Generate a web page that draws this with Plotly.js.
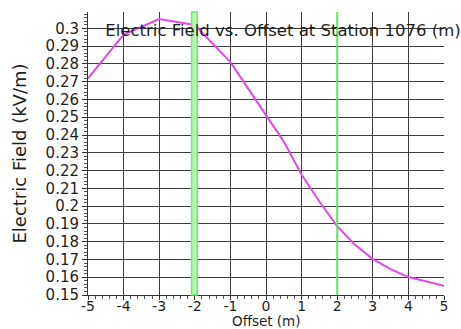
<!DOCTYPE html>
<html>
<head>
<meta charset="utf-8">
<script src="https://cdn.plot.ly/plotly-3.0.1.min.js"></script>
<style>
  html, body { margin: 0; padding: 0; background: #ffffff; }
  #chart { width: 461px; height: 329px; }
</style>
</head>
<body>
<div id="chart"></div>
<script>
// Data
const offsetM = [-5, -4, -3, -2, -1, 0, 0.5, 1, 1.5, 2, 2.5, 3, 3.5, 4, 4.5, 5];
const fieldKVm = [0.2719, 0.2965, 0.3052, 0.3019, 0.2810, 0.2510, 0.2363, 0.2176, 0.2026, 0.1886, 0.1783, 0.1702, 0.1646, 0.1601, 0.1577, 0.1552];

const xTickVals = [-5, -4, -3, -2, -1, 0, 1, 2, 3, 4, 5];
const xTickText = ["-5", "-4", "-3", "-2", "-1", "0", "1", "2", "3", "4", "5"];
const yTickVals = [0.15, 0.16, 0.17, 0.18, 0.19, 0.2, 0.21, 0.22, 0.23, 0.24, 0.25, 0.26, 0.27, 0.28, 0.29, 0.3];
const yTickText = ["0.15", "0.16", "0.17", "0.18", "0.19", "0.2", "0.21", "0.22", "0.23", "0.24", "0.25", "0.26", "0.27", "0.28", "0.29", "0.3"];

// Green marker lines (offset positions)
const bandLeft = [-2.09, -1.93];
const markerRight = 2;

const titleText = "Electric Field vs. Offset at Station 1076 (m)";
const xTitle = "Offset (m)";
const yTitle = "Electric Field (kV/m)";

const font = "DejaVu Sans, Verdana, sans-serif";
const ink = "#1e1e1e";

const trace = {
  x: offsetM,
  y: fieldKVm,
  type: "scatter",
  mode: "lines",
  line: { color: "#e447ea", width: 2 },
  hoverinfo: "skip",
  showlegend: false
};

const layout = {
  width: 461,
  height: 329,
  margin: { l: 88, r: 17, t: 12, b: 33.5 },
  paper_bgcolor: "#ffffff",
  plot_bgcolor: "#ffffff",
  font: { family: font, size: 15, color: ink },
  title: {
    text: titleText,
    font: { family: font, size: 16.5, color: ink },
    x: 283 / 461, xanchor: "center",
    y: 1 - 30 / 329, yanchor: "middle",
    xref: "container", yref: "container"
  },
  xaxis: {
    range: [-5, 5],
    tickvals: xTickVals,
    ticktext: xTickText,
    ticks: "outside",
    ticklen: 4,
    tickcolor: "#333333",
    tickfont: { family: font, size: 14, color: ink },
    ticklabelstandoff: -6,
    showgrid: true,
    gridcolor: "#3c3c3c",
    gridwidth: 1,
    zeroline: false,
    showline: true,
    linecolor: "#333333",
    linewidth: 1,
    automargin: false,
    minor: { dtick: 0.2, ticks: "outside", ticklen: 3, tickcolor: "#555555", showgrid: false }
  },
  yaxis: {
    range: [0.15, 0.3092],
    tickvals: yTickVals,
    ticktext: yTickText,
    ticks: "outside",
    ticklen: 5,
    tickcolor: "#333333",
    tickfont: { family: font, size: 15, color: ink },
    showgrid: true,
    gridcolor: "#3c3c3c",
    gridwidth: 1,
    zeroline: false,
    showline: true,
    linecolor: "#333333",
    linewidth: 1,
    automargin: false,
    minor: { dtick: 0.002, ticks: "outside", ticklen: 3, tickcolor: "#555555", showgrid: false },
    title: { text: yTitle, font: { family: font, size: 18, color: ink }, standoff: 14 }
  },
  annotations: [
    {
      text: xTitle, showarrow: false,
      xref: "paper", yref: "paper",
      x: 0.5, y: -(321.5 - 295.5) / 283.5,
      xanchor: "center", yanchor: "middle",
      font: { family: font, size: 13.5, color: ink }
    }
  ],
  shapes: [
    {
      type: "rect", xref: "x", yref: "paper",
      x0: bandLeft[0], x1: bandLeft[1], y0: 0, y1: 1,
      fillcolor: "#b8f7b0", line: { color: "#66f066", width: 1.5 }, layer: "above"
    },
    {
      type: "line", xref: "x", yref: "paper",
      x0: markerRight, x1: markerRight, y0: 0, y1: 1,
      line: { color: "#55ee55", width: 2 }, layer: "above"
    }
  ]
};

Plotly.newPlot("chart", [trace], layout, { staticPlot: true, displayModeBar: false });
</script>
</body>
</html>
